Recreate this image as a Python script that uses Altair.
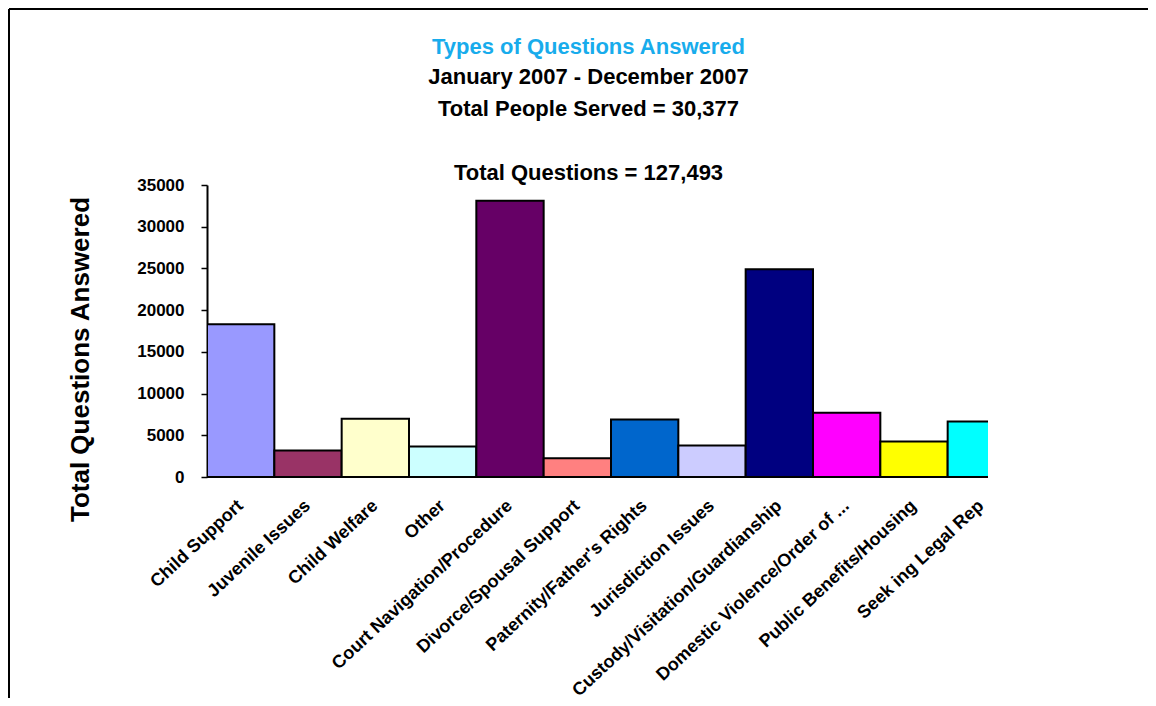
import altair as alt
import pandas as pd

categories = ["Child Support", "Juvenile Issues", "Child Welfare", "Other",
              "Court Navigation/Procedure", "Divorce/Spousal Support",
              "Paternity/Father's Rights", "Jurisdiction Issues",
              "Custody/Visitation/Guardianship", "Domestic Violence/Order of ...",
              "Public Benefits/Housing", "Seek ing Legal Rep"]
values = [18300, 3180, 6990, 3660, 33100, 2260, 6900, 3780, 24900, 7700, 4260, 6660]
colors = ["#9999FF", "#993366", "#FFFFCC", "#CCFFFF", "#660066", "#FF8080",
          "#0066CC", "#CCCCFF", "#000080", "#FF00FF", "#FFFF00", "#00FFFF"]
y_ticks = [0, 5000, 10000, 15000, 20000, 25000, 30000, 35000]

df = pd.DataFrame({"cat": categories, "val": values})

W, H = 781, 292
FONT = "Liberation Sans"

bars = alt.Chart(df).mark_bar(stroke="black", strokeWidth=2, clip=True).encode(
    x=alt.X("cat:N", sort=categories,
            scale=alt.Scale(domain=categories, range=[0, 808], paddingInner=0, paddingOuter=0),
            axis=alt.Axis(title=None, domain=False, ticks=False, labelAngle=-43,
                          labelAlign="right", labelBaseline="middle", labelPadding=26,
                          labelFont=FONT, labelFontSize=18, labelFontWeight="bold",
                          labelColor="black", labelOverlap=False, labelLimit=400)),
    y=alt.Y("val:Q", scale=alt.Scale(domain=[0, 35000], nice=False),
            axis=alt.Axis(title="Total Questions Answered", values=y_ticks, grid=False,
                          format="d",
                          domainColor="black", domainWidth=2, tickColor="black",
                          tickWidth=1.5, tickSize=6, labelPadding=17,
                          labelFont=FONT, labelFontSize=17, labelFontWeight="bold",
                          labelColor="black",
                          titleFont=FONT, titleFontSize=26, titleFontWeight="bold",
                          titleColor="black", titleAngle=270, titleX=-127, titleY=174,
                          titleAlign="center", titleBaseline="middle")),
    color=alt.Color("cat:N", scale=alt.Scale(domain=categories, range=colors), legend=None),
)

base_line = alt.Chart(df).mark_rule(color="black", strokeWidth=2).encode(y=alt.datum(0))

frame_left = alt.Chart(df).mark_rule(color="black", strokeWidth=2).encode(
    x=alt.value(-198), y=alt.value(-176), y2=alt.value(521))
frame_top = alt.Chart(df).mark_rule(color="black", strokeWidth=2).encode(
    x=alt.value(-198), x2=alt.value(949), y=alt.value(-176))

chart = alt.layer(bars, base_line, frame_left, frame_top).properties(
    width=W, height=H,
    title=alt.TitleParams(
        text="Types of Questions Answered",
        subtitle=["January 2007 - December 2007", "Total People Served = 30,377", "\u200b",
                  "Total Questions = 127,493"],
        color="#18ACEC", font=FONT, fontSize=22, fontWeight="bold",
        subtitleColor="black", subtitleFont=FONT, subtitleFontSize=22,
        subtitleFontWeight="bold", subtitleLineHeight=32, subtitlePadding=8,
        anchor="middle", dx=-9, offset=-177),
    autosize=alt.AutoSizeParams(type="none"),
    padding={"left": 199, "top": 177, "right": 160, "bottom": 221},
).configure(background="white").configure_view(stroke=None)

chart.save("out.html", embed_options={"renderer": "svg", "actions": False})
